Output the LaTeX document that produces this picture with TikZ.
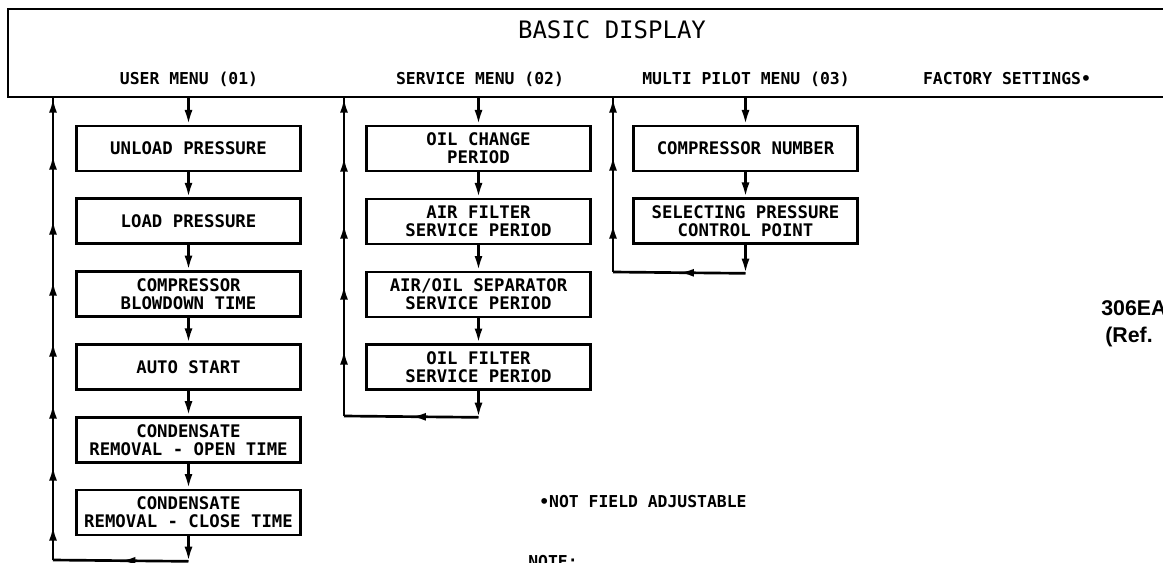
\documentclass[tikz,border=0pt]{standalone}
\usepackage{fontspec}
\setmainfont{DejaVu Sans Mono}
\newfontfamily\letterfont{DejaVu Sans Mono}
\newfontfamily\reffont{Liberation Sans}
\usetikzlibrary{arrows.meta,decorations.markings,calc}

\tikzset{
  menubox/.style={draw,line width=2pt,minimum width=168pt,minimum height=33.75pt,
    inner sep=1pt,align=center,font=\letterfont\bfseries\fontsize{13}{13.5}\selectfont},
  menulabel/.style={inner sep=0pt,font=\letterfont\bfseries\fontsize{12.3}{14}\selectfont},
  flow/.style={line width=2pt,-{Latex[length=11pt,width=6pt]}},
  loopline/.style={line width=2pt},
  midleft/.style={postaction={decorate},decoration={markings,
    mark=at position 0.5 with {\arrow{Latex[length=11pt,width=6pt]}}}},
}

\begin{document}
\begin{tikzpicture}[x=0.75pt,y=-0.75pt]
\useasboundingbox (0,0) rectangle (1163,563);
% basic display
\node[draw,line width=2.2pt,anchor=north west,outer sep=0pt,inner sep=0pt,
  minimum width=877pt,minimum height=66pt] (disp) at (8,9) {};
\node[font=\letterfont\fontsize{18}{20}\selectfont,inner sep=0pt] (title) at (612,30) {BASIC DISPLAY};
\foreach \n/\x/\txt in {user/189/{USER MENU (01)},serv/480/{SERVICE MENU (02)},
  multi/746/{MULTI PILOT MENU (03)},fact/1007/{FACTORY SETTINGS•}}{
  \node[menulabel] (\n) at (\x,79) {\txt};}

% user menu
\foreach \i/\y/\txt in {1/148.5/{UNLOAD PRESSURE},2/221.3/{LOAD PRESSURE},
  3/294.1/{COMPRESSOR\\BLOWDOWN TIME},4/366.9/{AUTO START},
  5/439.7/{CONDENSATE\\REMOVAL - OPEN TIME},6/512.5/{CONDENSATE\\REMOVAL - CLOSE TIME}}{
  \node[menubox] (u\i) at (188.5,\y) {\txt};}
% service menu
\foreach \i/\y/\txt in {1/148.5/{OIL CHANGE\\PERIOD},2/221.5/{AIR FILTER\\SERVICE PERIOD},
  3/294.5/{AIR/OIL SEPARATOR\\SERVICE PERIOD},4/367/{OIL FILTER\\SERVICE PERIOD}}{
  \node[menubox] (s\i) at (478.5,\y) {\txt};}
% multi pilot menu
\foreach \i/\y/\txt in {1/148.5/{COMPRESSOR NUMBER},2/221/{SELECTING PRESSURE\\CONTROL POINT}}{
  \node[menubox] (m\i) at (745.5,\y) {\txt};}

% down the columns
\draw[flow] (disp.south -| u1) -- (u1);
\draw[flow] (disp.south -| s1) -- (s1);
\draw[flow] (disp.south -| m1) -- (m1);
\foreach \a/\b in {u1/u2,u2/u3,u3/u4,u4/u5,u5/u6,s1/s2,s2/s3,s3/s4,m1/m2}{
  \draw[flow] (\a) -- (\b);}

% return loops
\coordinate (uturn) at ($(u6.south)+(0,25)$);
\coordinate (ucorner) at (53,560);
\draw[flow] (u6) -- (uturn);
\draw[loopline,midleft] (uturn) -- (ucorner);
\draw[loopline] (ucorner) -- (ucorner |- disp.south);
\foreach \y in {98,155,220,281,342,404,466,526}{
  \draw[flow] (53,\y+20) -- (53,\y);}

\coordinate (sturn) at ($(s4.south)+(0,26.5)$);
\coordinate (scorner) at (344,416);
\draw[flow] (s4) -- (sturn);
\draw[loopline,midleft] (sturn) -- (scorner);
\draw[loopline] (scorner) -- (scorner |- disp.south);
\foreach \y in {98,157,224,285,350}{
  \draw[flow] (344,\y+20) -- (344,\y);}

\coordinate (mturn) at ($(m2.south)+(0,28.5)$);
\coordinate (mcorner) at (613,272);
\draw[flow] (m2) -- (mturn);
\draw[loopline,midleft] (mturn) -- (mcorner);
\draw[loopline] (mcorner) -- (mcorner |- disp.south);
\foreach \y in {98,156,224}{
  \draw[flow] (613,\y+20) -- (613,\y);}

% notes
\node[menulabel,anchor=west] (fixed) at (539,502) {•NOT FIELD ADJUSTABLE};
\node[menulabel,anchor=north west] (note) at (528,555) {NOTE:};
\node[anchor=west,inner sep=0pt,font=\reffont\bfseries\fontsize{16}{18}\selectfont] (fig) at (1101,308) {306EA};
\node[anchor=west,inner sep=0pt,font=\reffont\bfseries\fontsize{16}{18}\selectfont] (ref) at (1105,337) {(Ref.};
\end{tikzpicture}
\end{document}
